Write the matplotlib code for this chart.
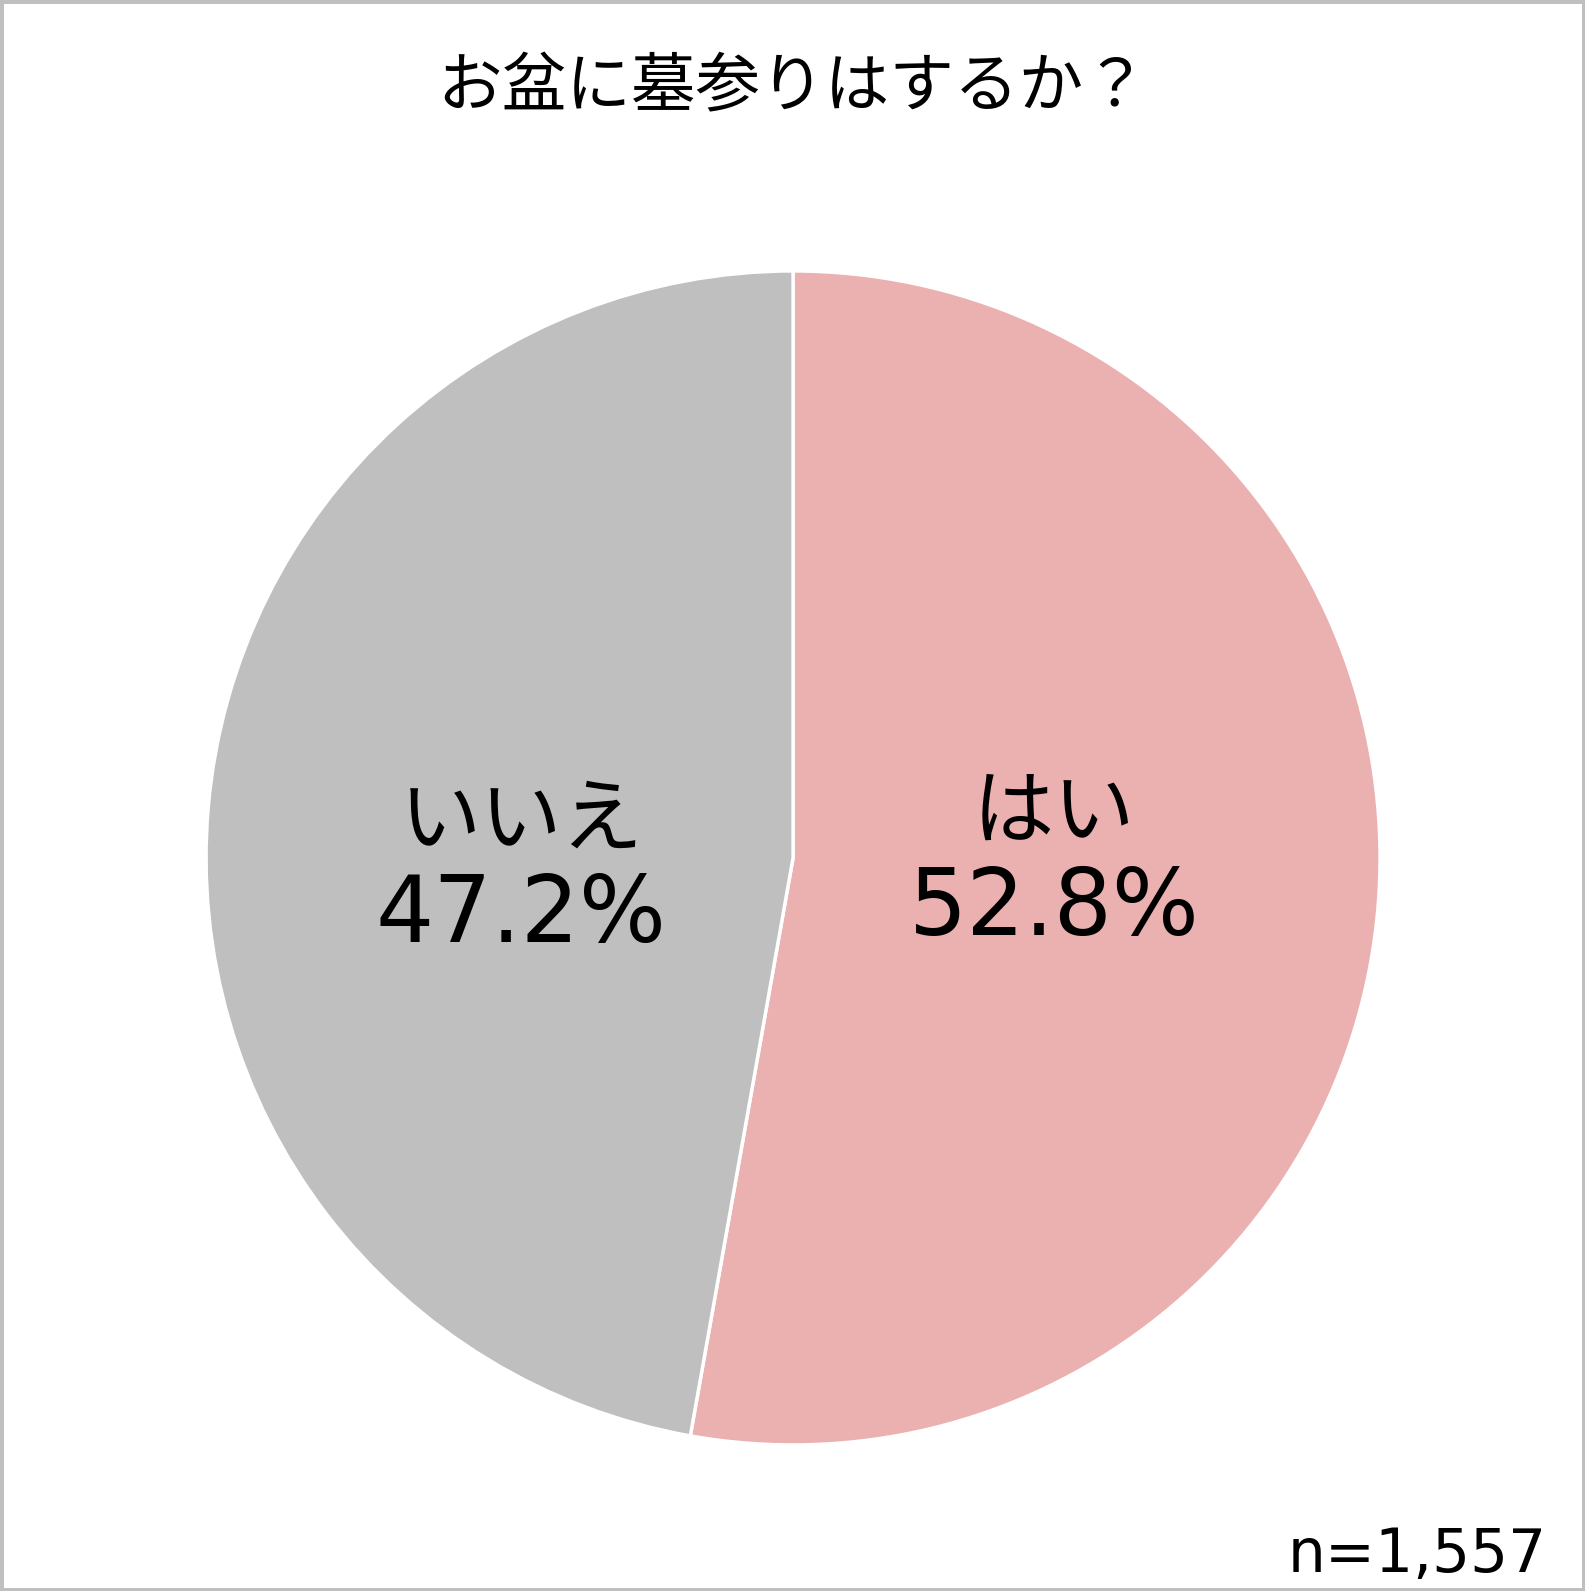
#!/usr/bin/env python3

import matplotlib.pyplot as plt
from matplotlib.patches import Rectangle

plt.rcParams['font.family'] = ['Noto Sans CJK JP', 'DejaVu Sans']

title = 'お盆に墓参りはするか？'
labels = ['はい', 'いいえ']
shares = [52.8, 47.2]
colors = ['#EBB0B0', '#BFBFBF']
nText = 'n=1,557'

# label positions in pie-radius units: x, name y (centre), percent y (baseline)
labelPos = [(0.445, 0.075, -0.131), (-0.463, 0.062, -0.143)]

fig = plt.figure(figsize=(15.85, 15.91), dpi=100)
ax = fig.add_axes([0.130, 0.0918, 0.7407, 0.7379])
ax.pie(shares, colors=colors, startangle=90, counterclock=False,
       wedgeprops=dict(edgecolor='white', linewidth=2.5))
ax.set_xlim(-1, 1)
ax.set_ylim(-1, 1)
ax.set_aspect('equal')

for lab, val, (x, y1, y2) in zip(labels, shares, labelPos):
    ax.text(x, y1, lab, ha='center', va='center', fontsize=58.5, color='black')
    ax.text(x, y2, '%.1f%%' % val, ha='center', va='baseline', fontsize=66,
            color='black', family='DejaVu Sans')

fig.text(0.5, 0.9445, title, ha='center', va='center', fontsize=46.5)
fig.text(0.976, 0.0119, nText, ha='right', va='baseline', fontsize=43,
         family='DejaVu Sans')

fig.patches.append(Rectangle((0, 0), 1, 1, transform=fig.transFigure,
                             fill=False, edgecolor='#BFBFBF', linewidth=5))

plt.savefig('out.png')
